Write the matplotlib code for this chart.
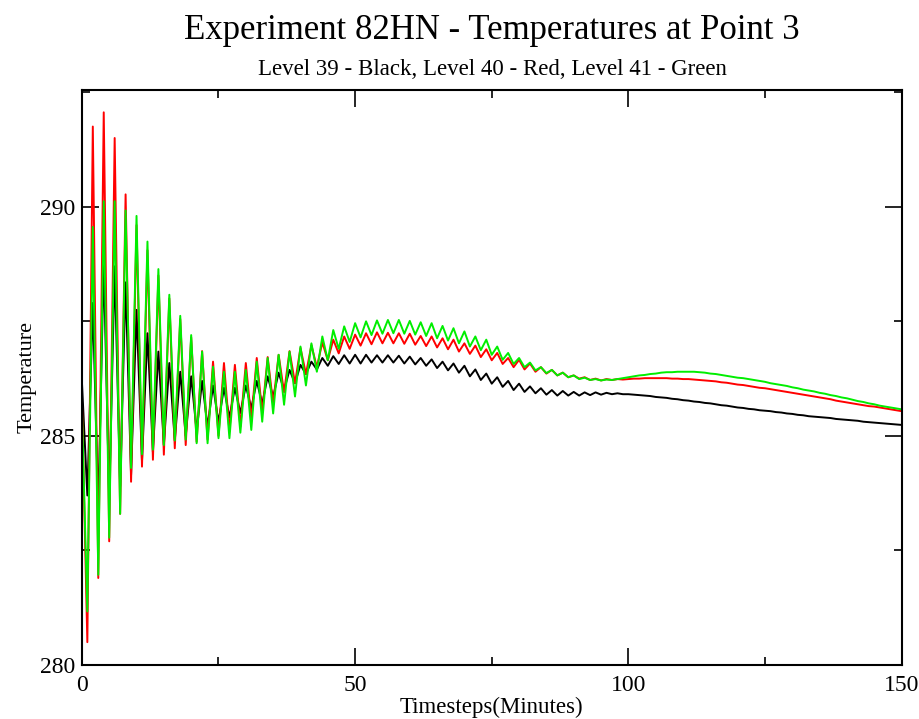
import matplotlib
matplotlib.use("Agg")
import matplotlib.pyplot as plt
from matplotlib.ticker import MultipleLocator

plt.rcParams['font.family'] = ['Liberation Serif', 'DejaVu Serif']

# timesteps 0..150 (minutes)
timesteps = list(range(151))

# Level 39 (black)
level39 = [
    286.2, 283.7, 287.9, 283.4, 288.8, 283.6, 288.7, 283.9, 288.35, 284.15,
    287.75, 284.45, 287.24, 284.65, 286.84, 284.8, 286.59, 284.9, 286.4, 285.0,
    286.3, 285.1, 286.2, 285.2, 286.1, 285.3, 286.05, 285.4, 286.05, 285.5,
    286.1, 285.6, 286.2, 285.7, 286.3, 285.85, 286.38, 286.0, 286.44, 286.15,
    286.55, 286.35, 286.62, 286.45, 286.7, 286.53, 286.74, 286.57, 286.76, 286.58,
    286.77, 286.58, 286.77, 286.6, 286.76, 286.6, 286.76, 286.6, 286.75, 286.58,
    286.73, 286.56, 286.7, 286.53, 286.67, 286.48, 286.62, 286.43, 286.58, 286.38,
    286.53, 286.3, 286.45, 286.22, 286.36, 286.14, 286.28, 286.07, 286.2, 286.0,
    286.14, 285.96, 286.08, 285.93, 286.04, 285.9, 286.0, 285.88, 285.98, 285.88,
    285.96, 285.88, 285.95, 285.89, 285.95, 285.9, 285.94, 285.91, 285.93, 285.91,
    285.91, 285.90, 285.89, 285.88, 285.87, 285.85, 285.84, 285.83, 285.81, 285.80,
    285.78, 285.77, 285.75, 285.74, 285.72, 285.71, 285.69, 285.67, 285.66, 285.64,
    285.62, 285.61, 285.59, 285.58, 285.56, 285.55, 285.54, 285.52, 285.51, 285.49,
    285.48, 285.46, 285.45, 285.43, 285.42, 285.41, 285.40, 285.39, 285.37, 285.36,
    285.35, 285.34, 285.33, 285.31, 285.30, 285.29, 285.28, 285.27, 285.26, 285.25,
    285.24,
]

# Level 40 (red)
level40 = [
    285.8, 280.5, 291.75, 281.9, 292.06, 282.7, 291.5, 283.3, 290.27, 284.0,
    289.6, 284.33, 289.05, 284.48, 288.5, 284.59, 288.0, 284.73, 287.55, 284.8,
    287.15, 284.87, 286.85, 284.92, 286.62, 285.0, 286.59, 285.1, 286.55, 285.2,
    286.59, 285.35, 286.7, 285.5, 286.72, 285.7, 286.77, 285.95, 286.85, 286.15,
    286.92, 286.35, 286.98, 286.5, 287.04, 286.65, 287.1, 286.8, 287.17, 286.9,
    287.21, 286.97, 287.24, 287.0, 287.26, 287.02, 287.25, 287.02, 287.24, 287.01,
    287.23, 286.99, 287.18, 286.96, 287.17, 286.93, 287.13, 286.89, 287.1, 286.84,
    287.02, 286.79, 286.97, 286.72, 286.89, 286.65, 286.81, 286.57, 286.7, 286.5,
    286.66, 286.45, 286.58, 286.4, 286.5, 286.36, 286.44, 286.32, 286.38, 286.28,
    286.32, 286.25, 286.28, 286.22, 286.25, 286.21, 286.24, 286.22, 286.24, 286.23,
    286.24, 286.25, 286.25, 286.26, 286.26, 286.26, 286.26, 286.26, 286.25, 286.25,
    286.24, 286.24, 286.23, 286.22, 286.21, 286.20, 286.19, 286.17, 286.16, 286.14,
    286.12, 286.11, 286.09, 286.07, 286.05, 286.04, 286.02, 286.00, 285.98, 285.96,
    285.94, 285.92, 285.90, 285.88, 285.86, 285.84, 285.82, 285.80, 285.77, 285.75,
    285.73, 285.71, 285.69, 285.67, 285.65, 285.64, 285.62, 285.60, 285.58, 285.56,
    285.54,
]

# Level 41 (green)
level41 = [
    285.6, 281.17, 289.56, 281.97, 290.12, 282.78, 290.12, 283.3, 289.92, 284.3,
    289.8, 284.6, 289.24, 284.7, 288.64, 284.8, 288.08, 284.9, 287.62, 284.92,
    287.2, 284.84, 286.84, 284.84, 286.51, 284.95, 286.4, 284.95, 286.4, 285.07,
    286.44, 285.13, 286.62, 285.31, 286.7, 285.49, 286.77, 285.68, 286.84, 285.86,
    286.95, 286.1, 287.02, 286.4, 287.17, 286.65, 287.31, 286.9, 287.39, 287.05,
    287.46, 287.15, 287.5, 287.2, 287.52, 287.23, 287.53, 287.24, 287.53, 287.23,
    287.51, 287.21, 287.48, 287.18, 287.46, 287.13, 287.4, 287.08, 287.35, 287.02,
    287.28, 286.95, 287.17, 286.87, 287.1, 286.77, 286.95, 286.66, 286.81, 286.57,
    286.7, 286.5, 286.6, 286.43, 286.5, 286.37, 286.44, 286.32, 286.38, 286.28,
    286.32, 286.24, 286.27, 286.22, 286.24, 286.21, 286.23, 286.22, 286.24, 286.26,
    286.28, 286.30, 286.32, 286.33, 286.35, 286.36, 286.38, 286.39, 286.39, 286.40,
    286.40, 286.40, 286.40, 286.39, 286.38, 286.36, 286.35, 286.33, 286.31, 286.29,
    286.27, 286.26, 286.24, 286.22, 286.20, 286.18, 286.15, 286.13, 286.11, 286.09,
    286.06, 286.04, 286.01, 285.99, 285.97, 285.94, 285.92, 285.89, 285.87, 285.84,
    285.82, 285.79, 285.76, 285.74, 285.71, 285.69, 285.66, 285.64, 285.62, 285.60,
    285.58,
]

fig = plt.figure(figsize=(9.2, 7.19), dpi=100)
ax = fig.add_axes([0.089, 0.075, 0.891, 0.80])

ax.plot(timesteps, level39, color='black', lw=1.4)
ax.plot(timesteps, level40, color='#ff0000', lw=1.4)
ax.plot(timesteps, level41, color='#00ee00', lw=1.4)

ax.set_xlim(0, 150)
ax.set_ylim(280, 292.55)
ax.xaxis.set_major_locator(MultipleLocator(50))
ax.xaxis.set_minor_locator(MultipleLocator(25))
ax.yaxis.set_major_locator(MultipleLocator(5))
ax.yaxis.set_minor_locator(MultipleLocator(2.5))
ax.tick_params(which='both', direction='in', top=True, right=True, labelsize=17, width=1.2)
ax.tick_params(which='major', length=12, pad=5)
ax.tick_params(which='minor', length=6)
ax.tick_params(axis='x', which='major', pad=7)
for s in ax.spines.values():
    s.set_linewidth(1.5)

ax.set_xlabel('Timesteps(Minutes)', fontsize=16.5, labelpad=1)
ax.set_ylabel('Temperature', fontsize=16, labelpad=2)

fig.text(0.535, 0.958, 'Experiment 82HN - Temperatures at Point 3', ha='center', va='center', fontsize=25)
fig.text(0.535, 0.904, 'Level 39 - Black, Level 40 - Red, Level 41 - Green', ha='center', va='center', fontsize=16.5)

fig.savefig('out.png', dpi=100)
